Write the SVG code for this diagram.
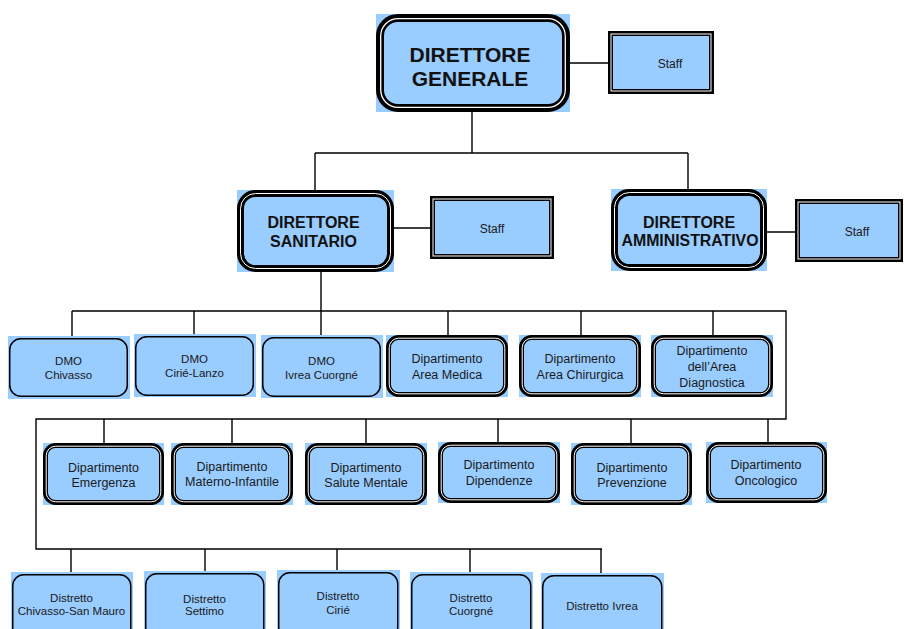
<svg xmlns="http://www.w3.org/2000/svg" width="904" height="629" viewBox="0 0 904 629">
<style>
.bg{fill:#99CCFF}
.tk{fill:#99CCFF;stroke:#000;stroke-width:5}
.tk7{fill:#99CCFF;stroke:#000;stroke-width:7}
.tk8{fill:#99CCFF;stroke:#000;stroke-width:8}
.wl{fill:none;stroke:#fff;stroke-width:1}
.th{fill:#99CCFF;stroke:#000;stroke-width:1.5}
.cn{fill:none;stroke:#000;stroke-width:1.4}
text{font-family:"Liberation Sans",Arial,sans-serif;fill:#1a1a1a;text-anchor:middle}
.big{font-weight:bold;font-size:21px;fill:#111}
.mid{font-weight:bold;font-size:16px;fill:#111}
.st{font-size:12px}
.dp{font-size:12.5px}
.sm{font-size:11.5px}
</style>
<rect width="904" height="629" fill="#fff"/>
<g id="connectors">
<path class="cn" d="M570 63H608M472 112V153M315 153H688M315 153V190M688 153V189M394 228H430M767 232H795"/>
<path class="cn" d="M321 272V311M72 311H786V419H36V549H602"/>
<path class="cn" d="M72 311V338M194 311V336M321 311V337M448 311V335M581 311V335M713 311V335"/>
<path class="cn" d="M104 419V443M232 419V443M366 419V443M498 419V442M631 419V443M768 419V442"/>
<path class="cn" d="M71 549V574M205 549V573M337 549V572M470 549V574M601 549V575"/>
</g>
<g id="dg">
<rect class="bg" x="376" y="14" width="194" height="98"/>
<rect class="tk8" x="380" y="18" width="186" height="90" rx="18"/>
<rect class="wl" x="380.7" y="18.7" width="184.6" height="88.6" rx="17.5" style="stroke-width:1.3"/>
<text class="big" x="470" y="62">DIRETTORE</text>
<text class="big" x="470" y="86">GENERALE</text>
</g>
<g id="staff-dg">
<rect class="tk" x="610.5" y="33.5" width="101" height="58"/>
<rect class="wl" x="611" y="34" width="100" height="57"/>
<text class="st" x="670" y="68">Staff</text>
</g>
<g id="ds">
<rect class="bg" x="237" y="190" width="157" height="82"/>
<rect class="tk7" x="240.5" y="193.5" width="150" height="75" rx="15"/>
<rect class="wl" x="240.5" y="193.5" width="150" height="75" rx="15"/>
<text class="mid" x="313.5" y="228">DIRETTORE</text>
<text class="mid" x="313.5" y="247">SANITARIO</text>
</g>
<g id="staff-ds">
<rect class="tk" x="432.5" y="198.5" width="119" height="58"/>
<rect class="wl" x="433" y="199" width="118" height="57"/>
<text class="st" x="492" y="233">Staff</text>
</g>
<g id="da">
<rect class="bg" x="611" y="189" width="156" height="82"/>
<rect class="tk7" x="614.5" y="192.5" width="149" height="75" rx="15"/>
<rect class="wl" x="614.5" y="192.5" width="149" height="75" rx="15"/>
<text class="mid" x="689" y="228">DIRETTORE</text>
<text class="mid" x="690" y="246" textLength="137" lengthAdjust="spacingAndGlyphs">AMMINISTRATIVO</text>
</g>
<g id="staff-da">
<rect class="tk" x="797.5" y="201.5" width="103" height="58"/>
<rect class="wl" x="798" y="202" width="102" height="57"/>
<text class="st" x="857" y="236">Staff</text>
</g>
<g id="dmo-chivasso">
<rect class="bg" x="8" y="336" width="122" height="63"/>
<rect class="th" x="9.75" y="338.75" width="117.5" height="57.5" rx="11"/>
<text class="sm" x="68.5" y="365">DMO</text>
<text class="sm" x="68.5" y="379">Chivasso</text>
</g>
<g id="dmo-cirie">
<rect class="bg" x="134" y="334" width="122" height="63"/>
<rect class="th" x="135.75" y="336.75" width="117.5" height="58.5" rx="11"/>
<text class="sm" x="194.5" y="363">DMO</text>
<text class="sm" x="194.5" y="377">Cirié-Lanzo</text>
</g>
<g id="dmo-ivrea">
<rect class="bg" x="261" y="335" width="122" height="63"/>
<rect class="th" x="262.75" y="337.75" width="117.5" height="58.5" rx="11"/>
<text class="sm" x="321.5" y="365">DMO</text>
<text class="sm" x="321.5" y="379">Ivrea Cuorgné</text>
</g>
<g id="dip-area-medica">
<rect class="bg" x="386" y="335" width="122" height="62"/>
<rect class="tk" x="388.5" y="337.5" width="117" height="57" rx="10"/>
<rect class="wl" x="389.2" y="338.2" width="115.6" height="55.6" rx="9.5"/>
<text class="dp" x="447" y="363">Dipartimento</text>
<text class="dp" x="447" y="379">Area Medica</text>
</g>
<g id="dip-area-chirurgica">
<rect class="bg" x="519" y="335" width="122" height="62"/>
<rect class="tk" x="521.5" y="337.5" width="117" height="57" rx="10"/>
<rect class="wl" x="522.2" y="338.2" width="115.6" height="55.6" rx="9.5"/>
<text class="dp" x="580" y="363">Dipartimento</text>
<text class="dp" x="580" y="379">Area Chirurgica</text>
</g>
<g id="dip-area-diagnostica">
<rect class="bg" x="651" y="335" width="122" height="62"/>
<rect class="tk" x="653.5" y="337.5" width="117" height="57" rx="10"/>
<rect class="wl" x="654.2" y="338.2" width="115.6" height="55.6" rx="9.5"/>
<text class="dp" x="712" y="355">Dipartimento</text>
<text class="dp" x="712" y="371">dell’Area</text>
<text class="dp" x="712" y="387">Diagnostica</text>
</g>
<g id="dip-emergenza">
<rect class="bg" x="43" y="443" width="121" height="62"/>
<rect class="tk" x="45.5" y="445.5" width="116" height="57" rx="10"/>
<rect class="wl" x="46.2" y="446.2" width="114.6" height="55.6" rx="9.5"/>
<text class="dp" x="103.5" y="472">Dipartimento</text>
<text class="dp" x="103.5" y="487">Emergenza</text>
</g>
<g id="dip-materno-infantile">
<rect class="bg" x="171" y="443" width="122" height="62"/>
<rect class="tk" x="173.5" y="445.5" width="117" height="57" rx="10"/>
<rect class="wl" x="174.2" y="446.2" width="115.6" height="55.6" rx="9.5"/>
<text class="dp" x="232" y="471">Dipartimento</text>
<text class="dp" x="232" y="486">Materno-Infantile</text>
</g>
<g id="dip-salute-mentale">
<rect class="bg" x="305" y="443" width="122" height="62"/>
<rect class="tk" x="307.5" y="445.5" width="117" height="57" rx="10"/>
<rect class="wl" x="308.2" y="446.2" width="115.6" height="55.6" rx="9.5"/>
<text class="dp" x="366" y="472">Dipartimento</text>
<text class="dp" x="366" y="487">Salute Mentale</text>
</g>
<g id="dip-dipendenze">
<rect class="bg" x="438" y="442" width="122" height="61"/>
<rect class="tk" x="440.5" y="444.5" width="117" height="56" rx="10"/>
<rect class="wl" x="441.2" y="445.2" width="115.6" height="54.6" rx="9.5"/>
<text class="dp" x="499" y="469">Dipartimento</text>
<text class="dp" x="499" y="485">Dipendenze</text>
</g>
<g id="dip-prevenzione">
<rect class="bg" x="571" y="443" width="121" height="62"/>
<rect class="tk" x="573.5" y="445.5" width="116" height="57" rx="10"/>
<rect class="wl" x="574.2" y="446.2" width="114.6" height="55.6" rx="9.5"/>
<text class="dp" x="632" y="472">Dipartimento</text>
<text class="dp" x="632" y="487">Prevenzione</text>
</g>
<g id="dip-oncologico">
<rect class="bg" x="706" y="442" width="121" height="61"/>
<rect class="tk" x="708.5" y="444.5" width="116" height="56" rx="10"/>
<rect class="wl" x="709.2" y="445.2" width="114.6" height="54.6" rx="9.5"/>
<text class="dp" x="766" y="469">Dipartimento</text>
<text class="dp" x="766" y="485">Oncologico</text>
</g>
<g id="distretto-chivasso">
<rect class="bg" x="11" y="572" width="122" height="70"/>
<rect class="th" x="12.75" y="574.75" width="118" height="65" rx="11"/>
<text class="sm" x="71.5" y="602">Distretto</text>
<text class="sm" x="71.5" y="615">Chivasso-San Mauro</text>
</g>
<g id="distretto-settimo">
<rect class="bg" x="144" y="571" width="122" height="70"/>
<rect class="th" x="145.75" y="573.75" width="118" height="65" rx="11"/>
<text class="sm" x="204.5" y="603">Distretto</text>
<text class="sm" x="204.5" y="615">Settimo</text>
</g>
<g id="distretto-cirie">
<rect class="bg" x="277" y="570" width="123" height="70"/>
<rect class="th" x="278.75" y="572.75" width="119" height="65" rx="11"/>
<text class="sm" x="338" y="600">Distretto</text>
<text class="sm" x="338" y="614">Cirié</text>
</g>
<g id="distretto-cuorgne">
<rect class="bg" x="410" y="572" width="123" height="70"/>
<rect class="th" x="411.75" y="574.75" width="119" height="65" rx="11"/>
<text class="sm" x="471" y="602">Distretto</text>
<text class="sm" x="471" y="615">Cuorgné</text>
</g>
<g id="distretto-ivrea">
<rect class="bg" x="541" y="573" width="123" height="70"/>
<rect class="th" x="542.75" y="575.75" width="119" height="65" rx="11"/>
<text class="sm" x="602" y="610">Distretto Ivrea</text>
</g>
</svg>
